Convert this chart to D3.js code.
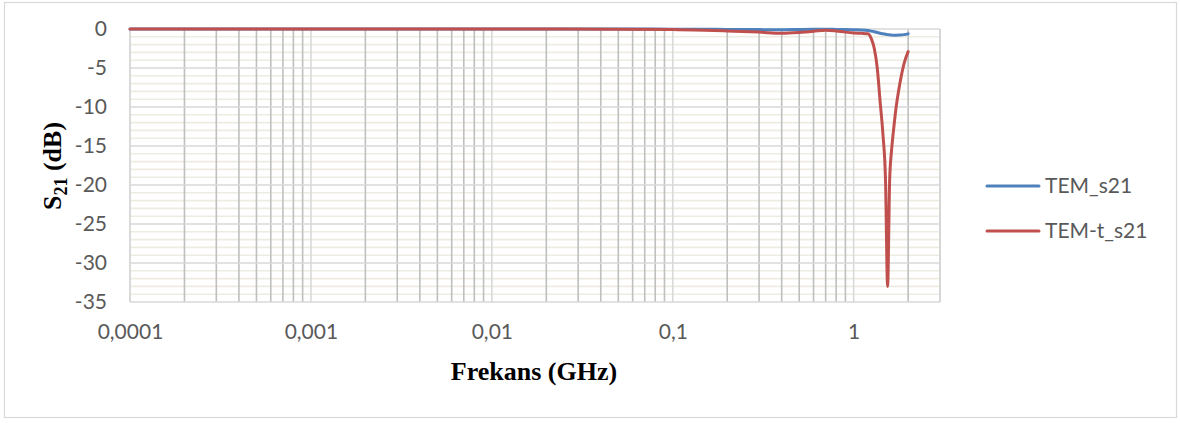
<!DOCTYPE html>
<html><head><meta charset="utf-8">
<script src="https://cdn.jsdelivr.net/npm/d3@7"></script>
<style>html,body{margin:0;padding:0;background:#fff;}</style>
</head><body>
<svg id="c" width="1180" height="423"></svg>
<script>
const freqGHz = [0.0001, 0.001, 0.01, 0.05, 0.1, 0.15, 0.2, 0.3, 0.4, 0.5, 0.6, 0.7, 0.8, 0.9, 1.0, 1.1, 1.2, 1.25, 1.3, 1.35, 1.4, 1.45, 1.5, 1.54, 1.58, 1.62, 1.66, 1.7, 1.8, 1.9, 2.0];
const temS21  = [0, 0, 0, 0, -0.02, -0.03, -0.05, -0.08, -0.1, -0.06, -0.04, -0.04, -0.05, -0.08, -0.1, -0.13, -0.2, -0.27, -0.35, -0.45, -0.55, -0.62, -0.68, -0.72, -0.75, -0.78, -0.8, -0.8, -0.78, -0.72, -0.62];
const temtS21 = [0, 0, 0, -0.02, -0.08, -0.15, -0.25, -0.4, -0.55, -0.45, -0.3, -0.15, -0.25, -0.4, -0.5, -0.55, -0.6, -1.2, -2.5, -5, -9.3, -13.4, -19.5, -33, -19.5, -15.5, -13, -10.8, -7, -4.4, -2.9];
const seriesNames = ["TEM_s21", "TEM-t_s21"];
const seriesColors = ["#4f81bd", "#c0504d"];
const yTickValues = [0, -5, -10, -15, -20, -25, -30, -35];
const xTickValues = [0.0001, 0.001, 0.01, 0.1, 1];
const xTickLabels = ["0,0001", "0,001", "0,01", "0,1", "1"];

const svg = d3.select("#c");
const L = 130, R = 940, T = 29, B = 302;
const x = d3.scaleLog().domain([0.0001, 3]).range([L, R]);
const y = d3.scaleLinear().domain([-35, 0]).range([B, T]);
const sans = "Lato, 'Open Sans', sans-serif";
const serif = "'Liberation Serif', 'Times New Roman', serif";

// outer border
svg.append("rect").attr("x", 4.5).attr("y", 2.5).attr("width", 1172).attr("height", 415)
  .attr("fill", "#fff").attr("stroke", "#d9d9d9").attr("stroke-width", 1.2);

// minor horizontal gridlines
const g = svg.append("g");
d3.range(-35, 1, 1).filter(v => v % 5 !== 0).forEach(v => {
  g.append("line").attr("x1", L).attr("x2", R).attr("y1", y(v)).attr("y2", y(v))
    .attr("stroke", "#eeece1").attr("stroke-width", 1.6);
});
// vertical gridlines
x.ticks().forEach(t => {
  const lg = Math.log10(t);
  const major = Math.abs(lg - Math.round(lg)) < 1e-9;
  g.append("line").attr("x1", x(t)).attr("x2", x(t)).attr("y1", T).attr("y2", B)
    .attr("stroke", major ? "#d9d9d9" : "#bfbfbf").attr("stroke-width", 1.6);
});
// major horizontal gridlines
yTickValues.forEach(v => {
  g.append("line").attr("x1", L).attr("x2", R).attr("y1", y(v)).attr("y2", y(v))
    .attr("stroke", "#d9d9d9").attr("stroke-width", 1.6);
});
// plot edges
g.append("line").attr("x1", L).attr("x2", L).attr("y1", T).attr("y2", B).attr("stroke", "#d9d9d9").attr("stroke-width", 1.6);
g.append("line").attr("x1", R).attr("x2", R).attr("y1", T).attr("y2", B).attr("stroke", "#d9d9d9").attr("stroke-width", 1.6);

// axes labels
const yAxis = d3.axisLeft(y).tickValues(yTickValues).tickSize(0).tickPadding(23).tickFormat(d => d === 0 ? "0" : "-" + Math.abs(d));
const ya = svg.append("g").attr("transform", `translate(${L},0)`).call(yAxis);
ya.select(".domain").remove();
ya.selectAll("text").attr("font-family", sans).attr("font-size", 21).attr("fill", "#595959");

const xAxis = d3.axisBottom(x).tickValues(xTickValues).tickSize(0).tickPadding(22).tickFormat((d, i) => xTickLabels[i]);
const xa = svg.append("g").attr("transform", `translate(0,${B})`).call(xAxis);
xa.select(".domain").remove();
xa.selectAll("text").attr("font-family", sans).attr("font-size", 21).attr("fill", "#595959");

// lines
const line = d3.line().x((d, i) => x(freqGHz[i])).y(d => y(d)).curve(d3.curveMonotoneX);
[temS21, temtS21].forEach((s, k) => {
  svg.append("path").datum(s).attr("d", line).attr("fill", "none")
    .attr("stroke", seriesColors[k]).attr("stroke-width", 3).attr("stroke-linejoin", "round").attr("stroke-linecap", "round");
});

// axis titles
svg.append("text").attr("x", 534).attr("y", 380).attr("text-anchor", "middle")
  .attr("font-family", serif).attr("font-weight", "bold").attr("font-size", 26)
  .attr("fill", "#000").text("Frekans (GHz)");
const yt = svg.append("text").attr("transform", "translate(61,166) rotate(-90)").attr("text-anchor", "middle")
  .attr("font-family", serif).attr("font-weight", "bold").attr("font-size", 26).attr("fill", "#000");
yt.append("tspan").text("S");
yt.append("tspan").attr("font-size", 18).attr("dy", 6).text("21");
yt.append("tspan").attr("dy", -6).text(" (dB)");

// legend
seriesNames.forEach((n, k) => {
  const ly = 186 + k * 45;
  svg.append("line").attr("x1", 987).attr("x2", 1039).attr("y1", ly).attr("y2", ly)
    .attr("stroke", seriesColors[k]).attr("stroke-width", 3).attr("stroke-linecap", "round");
  svg.append("text").attr("x", 1045).attr("y", ly).attr("dy", "0.35em")
    .attr("font-family", sans).attr("font-size", 21).attr("fill", "#595959").text(n);
});
</script>
</body></html>
